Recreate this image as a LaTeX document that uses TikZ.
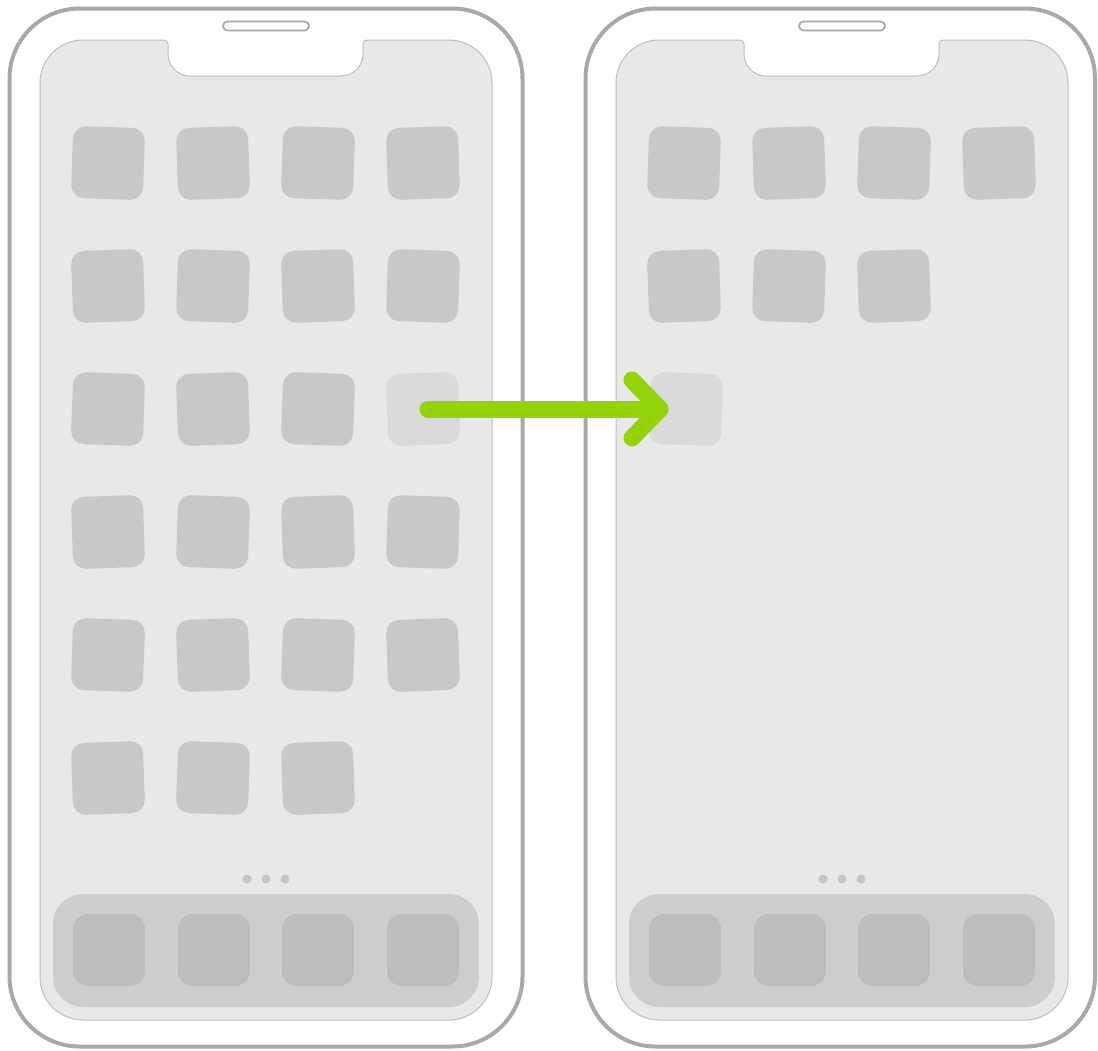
\documentclass[tikz,border=0pt]{standalone}
\usetikzlibrary{calc}
\definecolor{frameg}{HTML}{A9A9A9}
\definecolor{screenfill}{HTML}{E8E8E8}
\definecolor{screenline}{HTML}{BEBEBE}
\definecolor{iconfill}{HTML}{C8C8C8}
\definecolor{iconfade}{HTML}{DADADA}
\definecolor{dockfill}{HTML}{CDCDCD}
\definecolor{dockicon}{HTML}{BDBDBD}
\definecolor{dotfill}{HTML}{C5C5C5}
\definecolor{arrowgreen}{RGB}{148,211,10}
\tikzset{
  frame/.style={draw=frameg, line width=4pt, rounded corners=70pt},
  screenshape/.style={draw=screenline, line width=1pt, fill=screenfill},
  speaker/.style={draw=frameg, line width=1.8pt, fill=white, rounded corners=4.5pt},
  icon/.style={rectangle, minimum size=72pt, inner sep=0pt, rounded corners=13pt},
  dockbox/.style={fill=dockfill, rounded corners=30pt},
  dockapp/.style={rectangle, minimum size=72pt, inner sep=0pt, rounded corners=15pt, fill=dockicon},
  pagedot/.style={circle, minimum size=9pt, inner sep=0pt, fill=dotfill},
  movearrow/.style={draw=arrowgreen, line width=17pt, line cap=round, line join=round}
}
\newcommand\drawphone[3]{%
\begin{scope}[xshift=#1]
  \draw[frame] (9.5,8.5) rectangle (#2,1046.5);
  \draw[screenshape] (83,40) -- (164,40) arc(270:360:4) -- (168,54) arc(180:90:22)
     -- (341,76) arc(90:0:22) -- (363,44) arc(180:270:4) -- (449,40) arc(270:360:43)
     -- (492,977) arc(0:90:43) -- (83,1020) arc(90:180:43) -- (40,83) arc(180:270:43) -- cycle;
  \draw[speaker] (223,21.5) rectangle (309,30.5);
  \node[pagedot] (#3p1) at (247,879) {};
  \node[pagedot] (#3p2) at (266,879) {};
  \node[pagedot] (#3p3) at (285,879) {};
  \fill[dockbox] (53,894) rectangle (479,1007);
  \node[dockapp] (#3d1) at (109,950) {};
  \node[dockapp] (#3d2) at (214,950) {};
  \node[dockapp] (#3d3) at (318,950) {};
  \node[dockapp] (#3d4) at (423,950) {};
\end{scope}}
\begin{document}
\begin{tikzpicture}[x=1pt,y=-1pt]
\useasboundingbox (0,0) rectangle (1098,1050);
\drawphone{0pt}{522.5}{L}
\drawphone{576pt}{519}{R}
% left phone icons
\foreach \r in {1,...,6}{
  \foreach \c in {1,...,4}{
    \pgfmathtruncatemacro\k{10*\r+\c}
    \ifnum\k=64 \else
      \ifnum\k=34 \def\fc{iconfade}\else\def\fc{iconfill}\fi
      \pgfmathsetmacro\ang{ifthenelse(mod(\r+\c,2)==0,-2,2)}
      \node[icon, fill=\fc, rotate=\ang] (L\r\c) at ({108+(\c-1)*105},{163+(\r-1)*123}) {};
    \fi
  }
}
% right phone icons
\foreach \r/\c in {1/1,1/2,1/3,1/4,2/1,2/2,2/3}{
  \pgfmathsetmacro\ang{ifthenelse(mod(\r+\c,2)==0,-2,2)}
  \node[icon, fill=iconfill, rotate=\ang] (R\r\c) at ({684+(\c-1)*105},{163+(\r-1)*123}) {};
}
\node[icon, fill=iconfade, rotate=-2] (R31) at (686,409) {};
% arrow
\coordinate (tip) at (660,409);
\draw[movearrow] ([xshift=5pt]L34.center) -- (tip);
\draw[movearrow] ($(tip)+(-28,-29)$) -- (tip) -- ($(tip)+(-28,29)$);
\end{tikzpicture}
\end{document}
